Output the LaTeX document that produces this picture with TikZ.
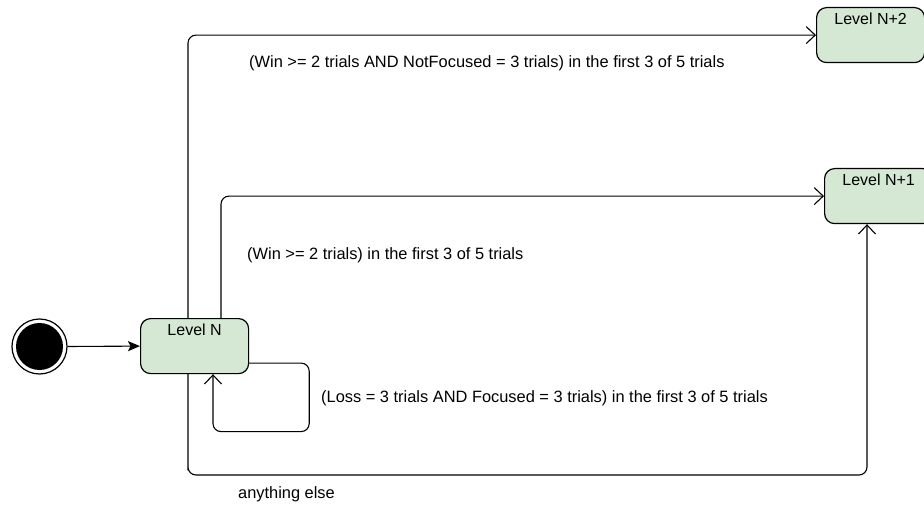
\documentclass[tikz,border=0pt]{standalone}
\usepackage{fontspec}
\setmainfont{Liberation Sans}
\usetikzlibrary{arrows.meta,calc}
\definecolor{stfill}{HTML}{D5E8D4}
\tikzset{
  x=1pt,y=-1pt,
  state/.style={draw=black, fill=stfill, line width=1.2pt, rounded corners=10pt,
    minimum width=108pt, minimum height=55pt, inner sep=0pt, anchor=north west},
  stlabel/.style={anchor=north, yshift=-2pt, font=\fontsize{16}{18}\selectfont},
  conn/.style={draw=black, line width=1.1pt, rounded corners=8pt,
    -{Straight Barb[length=9pt,width=17pt,line width=1.1pt]}},
  initconn/.style={draw=black, line width=1.1pt, -{Stealth[length=12pt,width=10pt,inset=2.5pt]}},
  cond/.style={anchor=west, inner sep=0pt, font=\fontsize{16.4}{18}\selectfont},
}
\begin{document}
\begin{tikzpicture}
\useasboundingbox (0,0) rectangle (924,505);
\clip (0,0) rectangle (924,505);
% initial state
\node[circle, draw=black, fill=white, line width=1.2pt, minimum size=55pt, inner sep=0pt] (init) at (39.5,346.5) {};
\fill[black] (init.center) circle (23.5pt);
% states
\node[state, label={[stlabel]north:Level N}] (ln) at (140,318) {};
\node[state, label={[stlabel]north:Level N+2}] (ln2) at (816,7) {};
\node[state, label={[stlabel]north:Level N+1}] (ln1) at (824,168) {};
% connectors
\draw[initconn] (init.east) -- (ln.west);
\draw[conn] ([xshift=48pt]ln.north west) |- (ln2.west);
\draw[conn] ([xshift=81pt]ln.north west) |- (ln1.west);
\draw[conn] ([yshift=-17pt]ln.east) -- ++(60,0) -- ++(0,68.5) -| ([xshift=73pt]ln.south west);
\coordinate (bot) at (188,475);
\draw[conn] ([xshift=48pt]ln.south west) |- (bot) -| ([xshift=43pt]ln1.south west);
% conditions
\node[cond] (c1) at (249,63) {(Win >= 2 trials AND NotFocused = 3 trials) in the first 3 of 5 trials};
\node[cond] (c2) at (247,255) {(Win >= 2 trials) in the first 3 of 5 trials};
\node[cond] (c3) at (321,398) {(Loss = 3 trials AND Focused = 3 trials) in the first 3 of 5 trials};
\node[cond] (c4) at (238,494) {anything else};
\end{tikzpicture}
\end{document}
